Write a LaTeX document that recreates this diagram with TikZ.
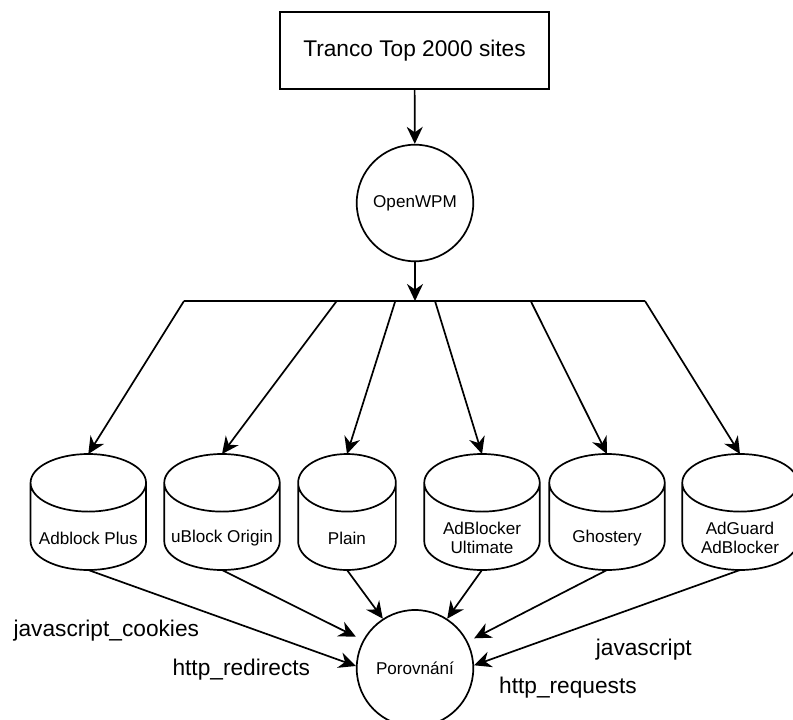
\documentclass[tikz,border=0pt]{standalone}
\usepackage{fontspec}
\setmainfont{Liberation Sans}
\usetikzlibrary{arrows.meta}

\begin{document}
\begin{tikzpicture}[x=1pt, y=-1pt, line width=1.7pt,
  every node/.style={font=\fontsize{17.1}{18.5}\selectfont, align=center},
  big/.style={font=\fontsize{22.7}{26}\selectfont},
  db/.style={minimum width=#1, minimum height=116pt, inner sep=0pt, outer sep=0pt},
  db/.default=115.5pt,
  dbtext/.style={yshift=-26pt},
  tag/.style={big, anchor=base west, inner sep=0pt},
  >={Stealth[length=17pt, width=16pt, inset=5.5pt]}]

\useasboundingbox (0,0) rectangle (793,720);

\node[draw, big, minimum width=269pt, minimum height=77pt] (tranco) at (414.5,50.7) {Tranco Top 2000 sites};
\node[draw, circle, minimum size=116.6pt] (wpm) at (415,203) {OpenWPM};

% split bar
\coordinate (s0) at (415,301);
\coordinate (s1) at (184,301);
\coordinate (s2) at (336.7,301);
\coordinate (s3) at (395.3,301);
\coordinate (s4) at (435,301);
\coordinate (s5) at (530.7,301);
\coordinate (s6) at (645,301);

% the six crawls
\node[db, label={[dbtext]center:Adblock Plus}] (abp) at (88.3,512) {};
\node[db, label={[dbtext]center:uBlock Origin}] (ubo) at (222,512) {};
\node[db=97.7pt, label={[dbtext]center:Plain}] (plain) at (347,512) {};
\node[db, label={[dbtext]center:AdBlocker\\Ultimate}] (abu) at (482,512) {};
\node[db, label={[dbtext]center:Ghostery}] (gho) at (607,512) {};
\node[db, label={[dbtext]center:AdGuard\\AdBlocker}] (adg) at (740,512) {};

\foreach \n/\r in {abp/57.75pt, ubo/57.75pt, plain/48.85pt, abu/57.75pt, gho/57.75pt, adg/57.75pt}
  \draw ([yshift=-28.8pt]\n.north) ellipse [x radius=\r, y radius=28.8pt]
        ([yshift=-28.8pt]\n.north west) -- ([yshift=28.8pt]\n.south west)
        arc [start angle=180, end angle=360, x radius=\r, y radius=28.8pt]
        -- ([yshift=-28.8pt]\n.north east);

\node[draw, circle, minimum size=116.6pt] (por) at (415,668.3) {Porovnání};

\draw[->] (tranco) -- (wpm);
\draw[->] (wpm) -- (s0);
\draw (s1) -- (s6);
\draw[->] (s1) -- (abp.north);
\draw[->] (s2) -- (ubo.north);
\draw[->] (s3) -- (plain.north);
\draw[->] (s4) -- (abu.north);
\draw[->] (s5) -- (gho.north);
\draw[->] (s6) -- (adg.north);

\draw[->] (abp.south) -- ([yshift=2.3pt]por.west);
\draw[->] (ubo.south) -- ([yshift=31.6pt]por.west);
\draw[->] (plain.south) -- (por.123);
\draw[->] (abu.south) -- (por.57);
\draw[->] (gho.south) -- ([yshift=30pt]por.east);
\draw[->] (adg.south) -- ([yshift=3pt]por.east);

\node[tag] (lcook) at (12.7,636.5) {javascript\_cookies};
\node[tag] (lredir) at (171.7,675) {http\_redirects};
\node[tag] (ljs) at (595,655) {javascript};
\node[tag] (lreq) at (498.3,693.3) {http\_requests};

\end{tikzpicture}
\end{document}
